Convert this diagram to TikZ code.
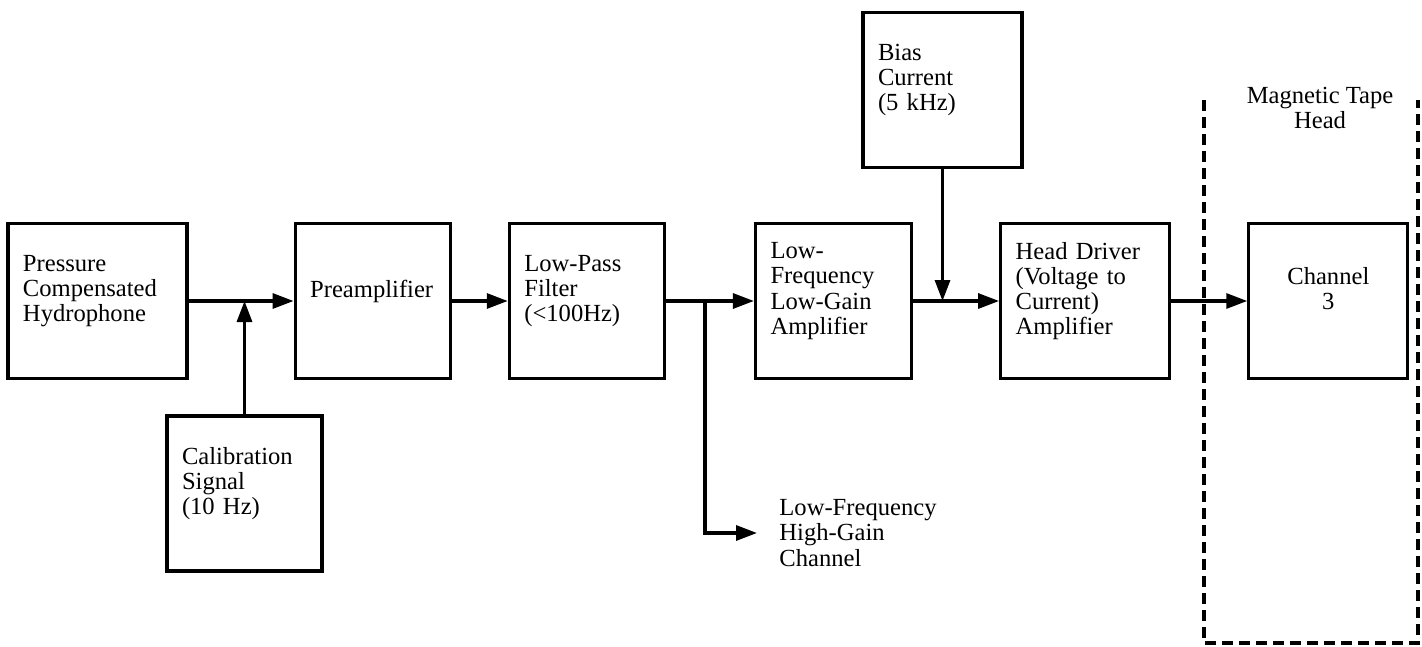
\documentclass[tikz,border=0pt]{standalone}
\usepackage{fontspec}
\setmainfont{Liberation Serif}
\usetikzlibrary{arrows.meta, positioning}

\begin{document}
\begin{tikzpicture}[>={Triangle[length=0.42cm, width=0.3cm]}, line width=1.8pt,
    blk/.style={rectangle, draw, align=left, text width=2.5cm, inner xsep=0.3cm, minimum height=3.1cm, font=\fontsize{14}{14.3}\selectfont, execute at end node={\\\mbox{}}},
    txt/.style={align=left, font=\fontsize{14}{14.3}\selectfont}]
    \useasboundingbox (0,0) rectangle (28.44,12.92);

    % Nodes
    \node (hyd) [blk, text width=2.98cm] at (1.95,6.9) {Pressure\\Compensated\\Hydrophone};
    \node (pre) [blk, right=2.1cm of hyd] {Preamplifier};
    \node (lpf) [blk, right=1.12cm of pre] {Low-Pass\\Filter\\(<100Hz)};
    \node (lfa) [blk, text width=2.52cm, right=1.76cm of lpf] {Low-\\Frequency\\Low-Gain\\Amplifier};
    \node (hdd) [blk, text width=2.78cm, right=1.72cm of lfa] {Head Driver\\(Voltage to\\Current)\\Amplifier};
    \node (chan) [blk, text width=2.58cm, align=center, right=1.52cm of hdd] {Channel\\3};
    \node (cal) [blk] at (4.89,3.05) {Calibration\\Signal\\(10 Hz)};
    \node (bias) [blk, text width=2.58cm] at (18.85,11.12) {Bias\\Current\\(5 kHz)};
    \node (hgc) [txt, anchor=west] at (15.44,2.26) {Low-Frequency\\High-Gain\\Channel};
    \node (mth) [txt, align=center] at (26.4,10.76) {Magnetic Tape\\Head};

    % Signal path
    \draw[->] (hyd) -- (pre);
    \draw[->] (cal) -- (cal |- hyd.east);
    \draw[->] (pre) -- (lpf);
    \draw[->] (lpf) -- (lfa);
    \coordinate [right=0.78cm of lpf.east] (tee);
    \draw[->, shorten >=0.3cm] (tee) |- (hgc.west);
    \draw[->] (lfa) -- (hdd);
    \draw[->] (bias) -- (bias |- lfa.east);
    \draw[->] (hdd) -- (chan);

    % Tape head frame
    \coordinate (mtl) at (24.08,10.92);
    \coordinate (mbr) at (28.36,0.06);
    \draw[dash pattern=on 0.22cm off 0.12cm] (mtl) |- (mbr) -- (mbr |- mtl);

\end{tikzpicture}
\end{document}
